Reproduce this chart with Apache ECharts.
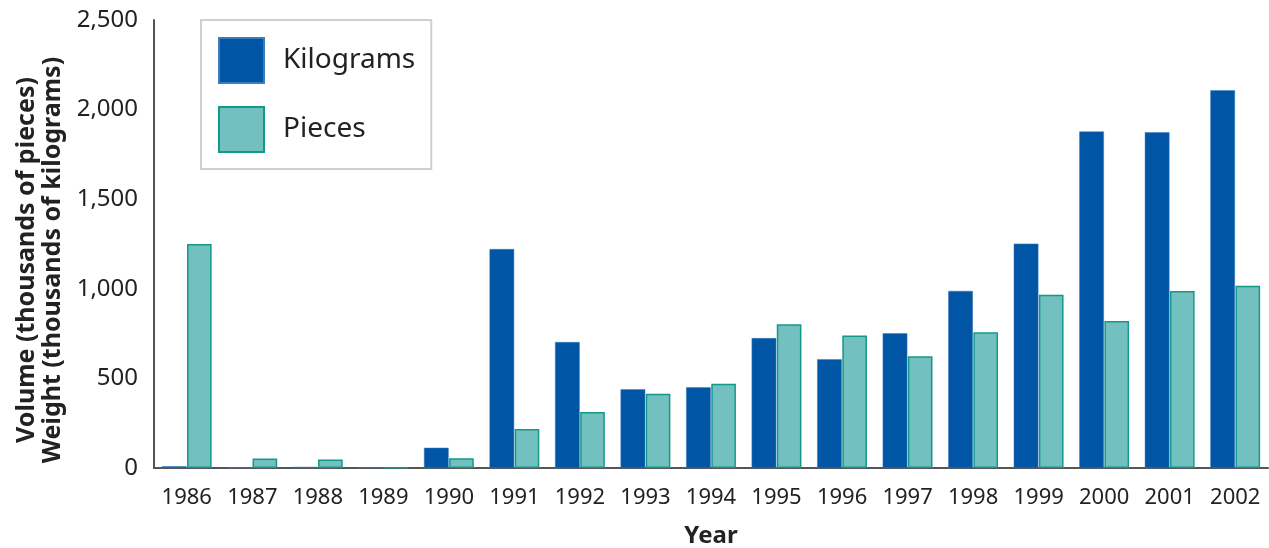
<!DOCTYPE html>
<html><head><meta charset="utf-8">
<script src="https://cdn.jsdelivr.net/npm/echarts@6/dist/echarts.min.js"></script>
<style>html,body{margin:0;padding:0;background:#fff}#c{width:1269px;height:548px}</style>
</head><body><div id="c"></div>
<script>
var years = ['1986','1987','1988','1989','1990','1991','1992','1993','1994','1995','1996','1997','1998','1999','2000','2001','2002'];
var kilograms = [10,3,6,3,113,1222,703,439,450,725,607,752,988,1252,1878,1874,2108];
var pieces = [1250,53,47,3,55,218,312,415,470,802,740,623,757,967,820,988,1017];
var yTicks = [0,500,1000,1500,2000,2500];

var chart = echarts.init(document.getElementById('c'));
var font = 'Noto Sans';
chart.setOption({
  animation:false,
  textStyle:{fontFamily:font},
  grid:{left:154,right:1,top:20,bottom:80,outerBoundsMode:'none',containLabel:false},
  legend:{
    orient:'vertical', left:201, top:20,
    padding:[17,16,16,17], itemGap:22, itemWidth:45, itemHeight:45,
    borderColor:'#cfcfcf', borderWidth:2, icon:'rect',
    textStyle:{fontSize:28,color:'#222',fontFamily:font,padding:[10,0,0,14]},
    data:['Kilograms','Pieces']
  },
  xAxis:{
    type:'category', data:years,
    axisLine:{lineStyle:{color:'#555',width:2}},
    axisTick:{show:false},
    axisLabel:{fontSize:22,color:'#222',margin:19,fontFamily:font,interval:0,hideOverlap:false},
    name:'Year', nameLocation:'middle', nameGap:56,
    nameTextStyle:{fontSize:24,fontWeight:'bold',color:'#222',fontFamily:font}
  },
  yAxis:{
    type:'value', min:yTicks[0], max:yTicks[yTicks.length-1], interval:500,
    axisLine:{show:true,lineStyle:{color:'#555',width:2}},
    axisTick:{show:false},
    splitLine:{show:false},
    axisLabel:{fontSize:24,color:'#222',margin:16,fontFamily:font,
      formatter:function(v){return v.toLocaleString('en-US');}},
    name:'Volume (thousands of pieces)\nWeight (thousands of kilograms)',
    nameLocation:'middle', nameRotate:90, nameGap:87,
    nameTextStyle:{fontSize:25,fontWeight:'bold',color:'#222',lineHeight:26,fontFamily:font,padding:[0,32,0,0]}
  },
  series:[
    {name:'Kilograms',type:'bar',data:kilograms,barGap:'2%',barCategoryGap:'24%',
     itemStyle:{color:'#0055A5',borderColor:'#3d7cc0',borderWidth:0.5}},
    {name:'Pieces',type:'bar',data:pieces,
     itemStyle:{color:'#72C0BF',borderColor:'#13998C',borderWidth:1.5}}
  ]
});
</script></body></html>
